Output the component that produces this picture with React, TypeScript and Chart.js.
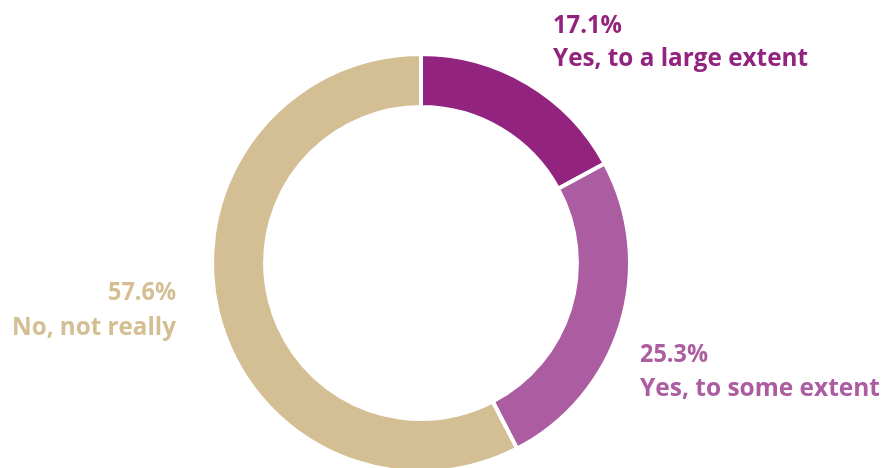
import React, { useEffect, useRef } from "react";
import { Chart, registerables } from "chart.js";

Chart.register(...registerables);

const categories = ["Yes, to a large extent", "Yes, to some extent", "No, not really"];
const values = [17.1, 25.3, 57.6];
const colors = ["#92237F", "#AC5CA0", "#D4BF94"];

const labelPlugin = {
  id: "sideLabels",
  afterDraw(chart: any) {
    const ctx = chart.ctx;
    ctx.save();
    ctx.font = "bold 25px 'Open Sans'";
    ctx.textBaseline = "alphabetic";
    const specs = [
      { x: 553, y1: 33, y2: 66, align: "left", w1: 69, w2: 255 },
      { x: 640, y1: 362, y2: 396, align: "left", w1: 68, w2: 240 },
      { x: 176, y1: 300, y2: 335, align: "right", w1: 68, w2: 164 },
    ];
    specs.forEach((s, i) => {
      ctx.fillStyle = colors[i];
      ctx.textAlign = s.align;
      ctx.fillText(values[i].toFixed(1) + "%", s.x, s.y1, s.w1);
      ctx.fillText(categories[i], s.x, s.y2, s.w2);
    });
    ctx.restore();
  },
};

export default function App() {
  const ref = useRef<HTMLCanvasElement>(null);
  useEffect(() => {
    const chart = new Chart(ref.current!, {
      type: "doughnut",
      data: {
        labels: categories,
        datasets: [
          {
            data: values,
            backgroundColor: colors,
            borderColor: "#ffffff",
            borderWidth: 4,
            radius: 209,
          },
        ],
      },
      options: {
        responsive: false,
        animation: false,
        devicePixelRatio: 1,
        cutout: "74.6%",
        layout: { padding: { right: 44 } },
        plugins: { legend: { display: false }, tooltip: { enabled: false } },
      },
      plugins: [labelPlugin],
    });
    return () => chart.destroy();
  }, []);
  return (
    <div style={{ position: "fixed", left: 0, top: 0, width: 886, height: 468, overflow: "hidden", background: "#fff" }}>
      <canvas ref={ref} width={886} height={526} style={{ width: 886, height: 526, display: "block" }} />
    </div>
  );
}
